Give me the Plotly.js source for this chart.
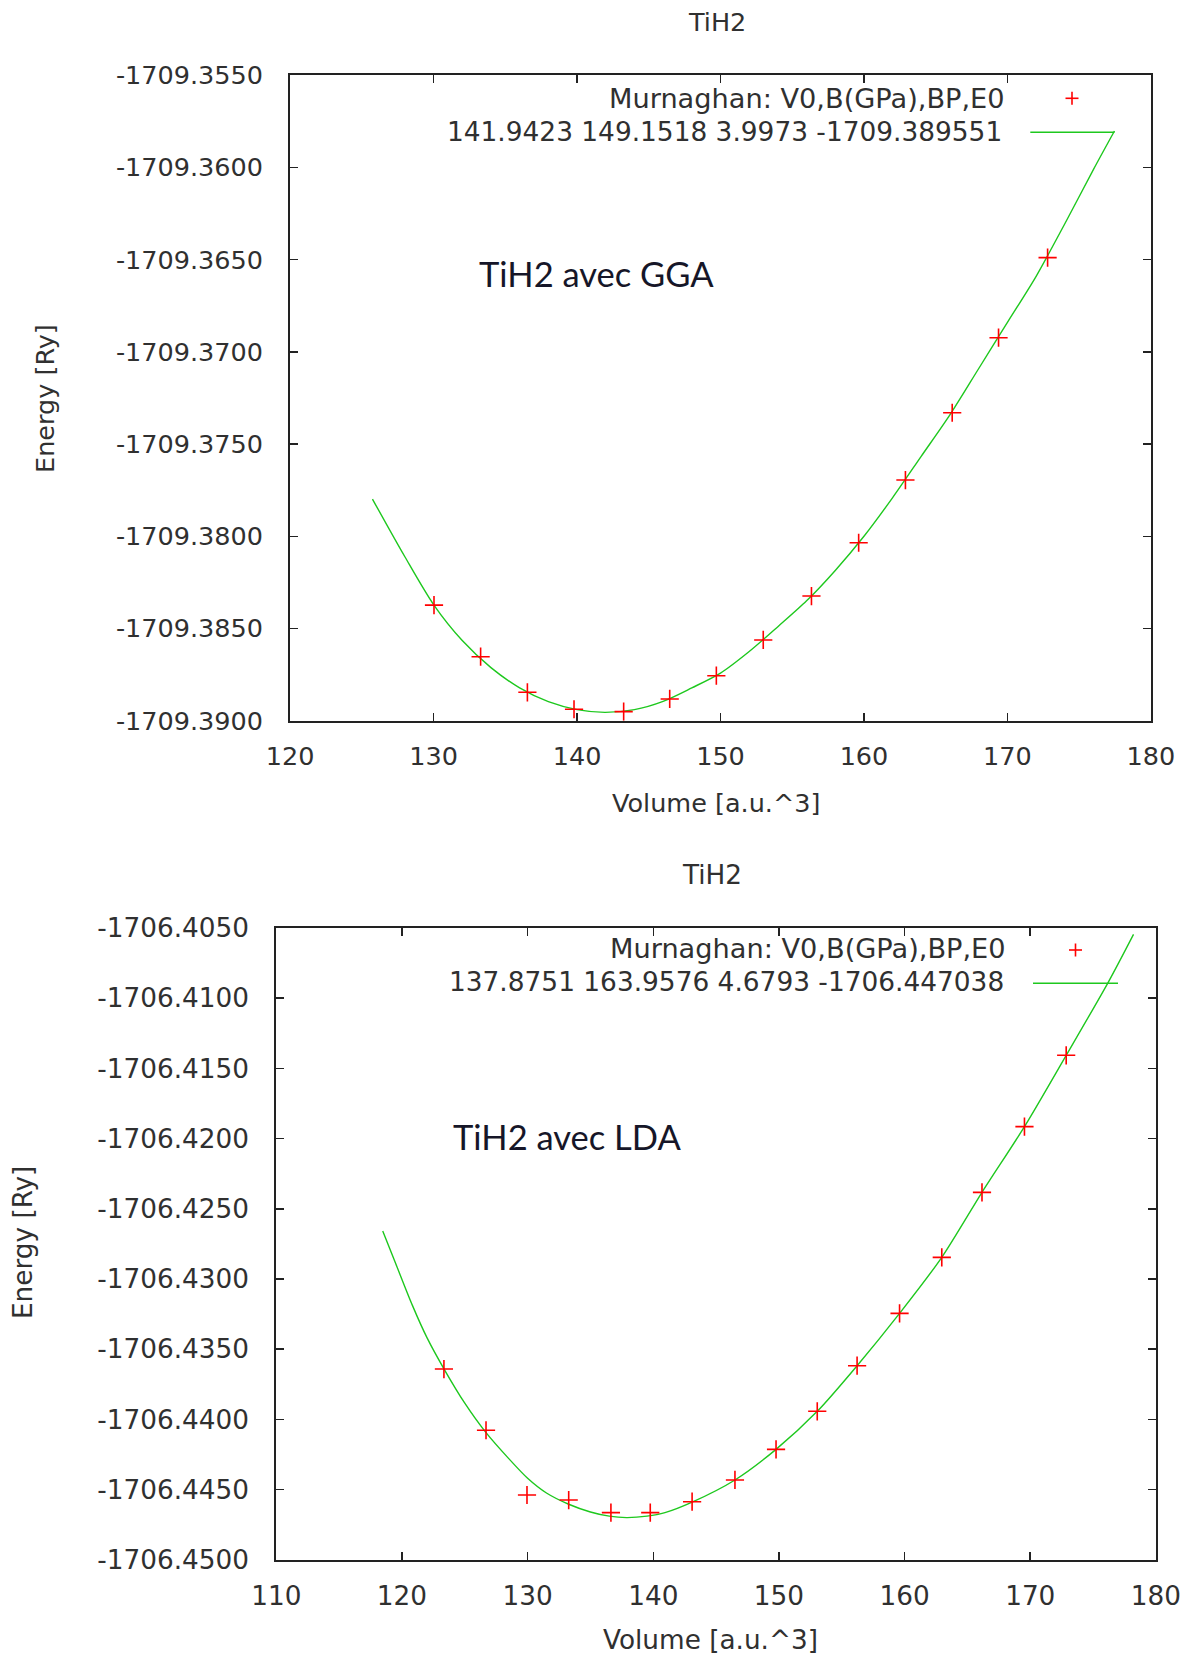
<!DOCTYPE html>
<html>
<head>
<meta charset="utf-8">
<script src="https://cdn.plot.ly/plotly-3.0.1.min.js"></script>
<style>html,body{margin:0;padding:0;background:#fff;}#chart{width:1186px;height:1658px;}</style>
</head>
<body>
<div id="chart"></div>
<script>
// ---- GGA (top panel) ----
const ggaVolume = [130.03, 133.28, 136.54, 139.79, 143.25, 146.46, 149.71, 152.98, 156.34, 159.63, 162.89, 166.15, 169.38, 172.80];
const ggaEnergy = [-1709.38373, -1709.38653, -1709.38846, -1709.38938, -1709.38951, -1709.38882, -1709.38756, -1709.38562, -1709.38324, -1709.38035, -1709.37695, -1709.37330, -1709.36923, -1709.36489];
const ggaFitVolume = [125.74, 128.0, 130.0, 132.0, 134.0, 136.0, 138.0, 140.0, 141.94, 144.0, 146.0, 148.0, 150.0, 152.0, 154.0, 156.0, 158.0, 160.0, 162.0, 164.0, 166.0, 168.0, 170.0, 172.0, 174.0, 176.0, 177.46];
const ggaFitEnergy = [-1709.37798, -1709.38111, -1709.38370, -1709.38565, -1709.38712, -1709.38822, -1709.38897, -1709.38940, -1709.38955, -1709.38940, -1709.38895, -1709.38822, -1709.38742, -1709.38625, -1709.38490, -1709.38350, -1709.38185, -1709.38000, -1709.37790, -1709.37565, -1709.37340, -1709.37090, -1709.36840, -1709.36590, -1709.36305, -1709.36010, -1709.35802];
const ggaYTickVals = [-1709.3900, -1709.3850, -1709.3800, -1709.3750, -1709.3700, -1709.3650, -1709.3600, -1709.3550];
const ggaYTickText = ['-1709.3900', '-1709.3850', '-1709.3800', '-1709.3750', '-1709.3700', '-1709.3650', '-1709.3600', '-1709.3550'];
const ggaXTicks = [120, 130, 140, 150, 160, 170, 180];
const ggaLegend1 = 'Murnaghan: V0,B(GPa),BP,E0';
const ggaLegend2 = '141.9423 149.1518 3.9973 -1709.389551';
const ggaNote = 'TiH2 avec GGA';

// ---- LDA (bottom panel) ----
const ldaVolume = [123.34, 126.69, 129.95, 133.27, 136.63, 139.76, 143.09, 146.50, 149.77, 153.05, 156.22, 159.60, 162.96, 166.16, 169.54, 172.86];
const ldaEnergy = [-1706.43642, -1706.44078, -1706.44539, -1706.44575, -1706.44665, -1706.44665, -1706.44587, -1706.44432, -1706.44214, -1706.43943, -1706.43618, -1706.43245, -1706.42846, -1706.42383, -1706.41915, -1706.41407];
const ldaFitVolume = [118.47, 119.5, 120.84, 122.0, 123.34, 125.0, 126.69, 128.5, 130.0, 131.5, 133.27, 135.0, 136.5, 137.88, 139.5, 140.93, 143.09, 146.5, 149.77, 153.05, 156.22, 159.6, 162.96, 166.16, 169.54, 172.86, 176.16, 178.22];
const ldaFitEnergy = [-1706.42658, -1706.42890, -1706.43190, -1706.43420, -1706.43640, -1706.43885, -1706.44095, -1706.44280, -1706.44420, -1706.44525, -1706.44605, -1706.44660, -1706.44690, -1706.44700, -1706.44690, -1706.44665, -1706.44590, -1706.44432, -1706.44214, -1706.43943, -1706.43618, -1706.43245, -1706.42846, -1706.42383, -1706.41915, -1706.41407, -1706.40894, -1706.40545];
const ldaYTickVals = [-1706.4500, -1706.4450, -1706.4400, -1706.4350, -1706.4300, -1706.4250, -1706.4200, -1706.4150, -1706.4100, -1706.4050];
const ldaYTickText = ['-1706.4500', '-1706.4450', '-1706.4400', '-1706.4350', '-1706.4300', '-1706.4250', '-1706.4200', '-1706.4150', '-1706.4100', '-1706.4050'];
const ldaXTicks = [110, 120, 130, 140, 150, 160, 170, 180];
const ldaLegend1 = 'Murnaghan: V0,B(GPa),BP,E0';
const ldaLegend2 = '137.8751 163.9576 4.6793 -1706.447038';
const ldaNote = 'TiH2 avec LDA';

const chartTitle = 'TiH2';
const xTitle = 'Volume [a.u.^3]';
const yTitle = 'Energy [Ry]';

// ---- styles ----
const W = 1186, H = 1658;
const px = v => v / W;
const py = v => 1 - v / H;
const ink = '#303030';
const txtFont = {family: 'DejaVu Sans, sans-serif', size: 25.5, color: ink};
const txtFont2 = {family: 'DejaVu Sans, sans-serif', size: 26.3, color: ink};
const legFontA = {family: 'DejaVu Sans, sans-serif', size: 27.2, color: ink};
const legFontB = {family: 'DejaVu Sans, sans-serif', size: 26.4, color: ink};
const noteFont = {family: 'Lato, sans-serif', size: 34.5, color: '#161628'};
const red = '#ff0000';
const green = '#1ec81e';

const markerStyle = {symbol: 'cross-thin', size: 13, color: red, line: {color: red, width: 1.6}};

const traces = [
  {x: ggaFitVolume, y: ggaFitEnergy, xaxis: 'x', yaxis: 'y', mode: 'lines',
   line: {color: green, width: 1.4, shape: 'spline', smoothing: 0.8}, hoverinfo: 'skip'},
  {x: ggaVolume, y: ggaEnergy, xaxis: 'x', yaxis: 'y', mode: 'markers', marker: markerStyle, hoverinfo: 'skip'},
  {x: ldaFitVolume, y: ldaFitEnergy, xaxis: 'x2', yaxis: 'y2', mode: 'lines',
   line: {color: green, width: 1.4, shape: 'spline', smoothing: 0.8}, hoverinfo: 'skip'},
  {x: ldaVolume, y: ldaEnergy, xaxis: 'x2', yaxis: 'y2', mode: 'markers', marker: markerStyle, hoverinfo: 'skip'}
];

function axisBase(font) {
  return {
    showline: true, linecolor: '#222', linewidth: 2, mirror: 'ticks',
    ticks: 'inside', ticklen: 8, tickwidth: 1.5, tickcolor: '#222',
    showgrid: false, zeroline: false, tickfont: font, fixedrange: true
  };
}

const layout = {
  width: W, height: H,
  margin: {l: 0, r: 0, t: 0, b: 0},
  paper_bgcolor: '#ffffff', plot_bgcolor: '#ffffff',
  showlegend: false,
  xaxis: Object.assign(axisBase(txtFont), {
    domain: [px(290.1), px(1150.9)], range: [120, 180], anchor: 'y',
    tickmode: 'array', tickvals: ggaXTicks, ticktext: ggaXTicks.map(String), ticklabelstandoff: 12
  }),
  yaxis: Object.assign(axisBase(txtFont), {
    domain: [py(720.7), py(75.3)], range: [-1709.3900, -1709.3550], anchor: 'x',
    tickmode: 'array', tickvals: ggaYTickVals, ticktext: ggaYTickText, ticklabelstandoff: 20
  }),
  xaxis2: Object.assign(axisBase(txtFont2), {
    domain: [px(276.3), px(1155.9)], range: [110, 180], anchor: 'y2',
    tickmode: 'array', tickvals: ldaXTicks, ticktext: ldaXTicks.map(String), ticklabelstandoff: 12
  }),
  yaxis2: Object.assign(axisBase(txtFont2), {
    domain: [py(1559.7), py(928)], range: [-1706.4500, -1706.4050], anchor: 'x2',
    tickmode: 'array', tickvals: ldaYTickVals, ticktext: ldaYTickText, ticklabelstandoff: 20
  }),
  annotations: [
    {text: chartTitle, x: px(716.7), y: py(21.7), xref: 'paper', yref: 'paper', xanchor: 'center', yanchor: 'middle', showarrow: false, font: txtFont},
    {text: xTitle, x: px(715.7), y: py(803.3), xref: 'paper', yref: 'paper', xanchor: 'center', yanchor: 'middle', showarrow: false, font: txtFont},
    {text: yTitle, x: px(44.4), y: py(398.5), xref: 'paper', yref: 'paper', xanchor: 'center', yanchor: 'middle', showarrow: false, textangle: -90, font: txtFont},
    {text: ggaNote, x: px(596.8), y: py(273.3), xref: 'paper', yref: 'paper', xanchor: 'center', yanchor: 'middle', showarrow: false, font: noteFont},
    {text: ggaLegend1, x: px(1007), y: py(98.3), xref: 'paper', yref: 'paper', xanchor: 'right', yanchor: 'middle', showarrow: false, font: legFontA},
    {text: ggaLegend2, x: px(1004), y: py(131.7), xref: 'paper', yref: 'paper', xanchor: 'right', yanchor: 'middle', showarrow: false, font: legFontB},

    {text: chartTitle, x: px(712), y: py(875), xref: 'paper', yref: 'paper', xanchor: 'center', yanchor: 'middle', showarrow: false, font: txtFont2},
    {text: xTitle, x: px(710.8), y: py(1640), xref: 'paper', yref: 'paper', xanchor: 'center', yanchor: 'middle', showarrow: false, font: txtFont2},
    {text: yTitle, x: px(23), y: py(1243), xref: 'paper', yref: 'paper', xanchor: 'center', yanchor: 'middle', showarrow: false, textangle: -90, font: txtFont2},
    {text: ldaNote, x: px(567), y: py(1136.7), xref: 'paper', yref: 'paper', xanchor: 'center', yanchor: 'middle', showarrow: false, font: noteFont},
    {text: ldaLegend1, x: px(1008.2), y: py(949), xref: 'paper', yref: 'paper', xanchor: 'right', yanchor: 'middle', showarrow: false, font: legFontA},
    {text: ldaLegend2, x: px(1006.3), y: py(981.7), xref: 'paper', yref: 'paper', xanchor: 'right', yanchor: 'middle', showarrow: false, font: legFontB}
  ],
  shapes: [
    // legend samples, top panel
    {type: 'line', xref: 'paper', yref: 'paper', x0: px(1065.5), x1: px(1078.5), y0: py(98.3), y1: py(98.3), line: {color: red, width: 1.6}},
    {type: 'line', xref: 'paper', yref: 'paper', x0: px(1072), x1: px(1072), y0: py(91.8), y1: py(104.8), line: {color: red, width: 1.6}},
    {type: 'line', xref: 'paper', yref: 'paper', x0: px(1030.3), x1: px(1114.5), y0: py(132.2), y1: py(132.2), line: {color: green, width: 1.4}},
    // legend samples, bottom panel
    {type: 'line', xref: 'paper', yref: 'paper', x0: px(1069), x1: px(1082), y0: py(950), y1: py(950), line: {color: red, width: 1.6}},
    {type: 'line', xref: 'paper', yref: 'paper', x0: px(1075.5), x1: px(1075.5), y0: py(943.5), y1: py(956.5), line: {color: red, width: 1.6}},
    {type: 'line', xref: 'paper', yref: 'paper', x0: px(1033), x1: px(1118), y0: py(983.3), y1: py(983.3), line: {color: green, width: 1.4}}
  ]
};

Plotly.newPlot('chart', traces, layout, {staticPlot: true, displayModeBar: false});
</script>
</body>
</html>
